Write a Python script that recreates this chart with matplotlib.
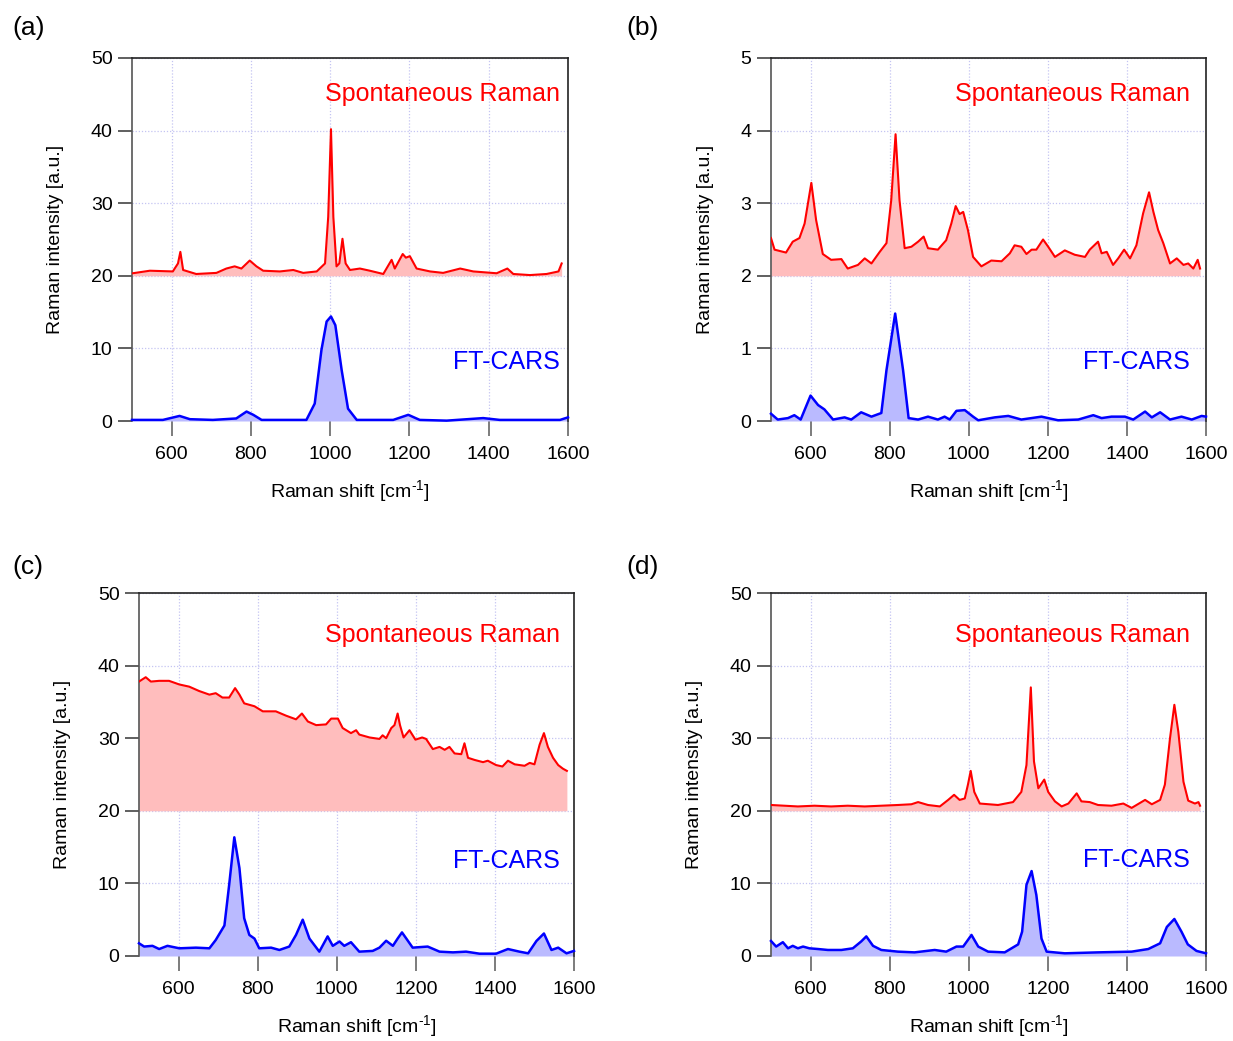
import matplotlib
matplotlib.use("Agg")
import matplotlib.pyplot as plt

plt.rcParams['font.family'] = ['Liberation Sans', 'DejaVu Sans']
plt.rcParams['mathtext.fontset'] = 'custom'
plt.rcParams['mathtext.rm'] = 'Liberation Sans'

# ---------------- (a) ----------------
a_raman_x = [502, 545, 603, 616, 622, 629, 662, 713, 738, 759, 776, 797, 814, 831, 873,
             907, 932, 966, 987, 995, 1002, 1008, 1016, 1023, 1031, 1039, 1050, 1075,
             1100, 1134, 1155, 1163, 1183, 1191, 1201, 1218, 1252, 1285, 1328, 1361,
             1420, 1447, 1462, 1504, 1546, 1576, 1584]
a_raman_y = [20.35, 20.7, 20.6, 21.7, 23.3, 20.8, 20.25, 20.4, 21.0, 21.3, 21.0, 22.1,
             21.3, 20.7, 20.6, 20.8, 20.4, 20.6, 21.7, 28.1, 40.2, 28.1, 21.3, 21.7,
             25.1, 21.7, 20.8, 21.0, 20.7, 20.25, 22.2, 21.0, 23.0, 22.5, 22.7, 21.0,
             20.6, 20.4, 21.0, 20.6, 20.35, 21.0, 20.25, 20.1, 20.25, 20.6, 21.7]
a_cars_x = [500, 578, 620, 646, 704, 763, 789, 806, 827, 940, 961, 978, 991, 1002, 1013,
            1029, 1045, 1067, 1159, 1197, 1226, 1294, 1386, 1428, 1504, 1580, 1600]
a_cars_y = [0.15, 0.15, 0.7, 0.25, 0.15, 0.35, 1.3, 0.85, 0.15, 0.15, 2.4, 9.8, 13.7,
            14.4, 13.2, 7.0, 1.7, 0.15, 0.15, 0.85, 0.15, 0.05, 0.4, 0.15, 0.15, 0.15, 0.5]

# ---------------- (b) ----------------
b_raman_x = [500, 509, 538, 555, 572, 585, 602, 614, 631, 652, 678, 694, 720, 737, 754,
             775, 792, 804, 815, 825, 838, 855, 872, 886, 897, 922, 943, 956, 967, 977,
             986, 998, 1011, 1032, 1057, 1083, 1104, 1116, 1133, 1146, 1159, 1171, 1188,
             1201, 1218, 1243, 1268, 1294, 1306, 1327, 1336, 1349, 1365, 1378, 1393,
             1408, 1424, 1441, 1456, 1467, 1479, 1492, 1509, 1526, 1543, 1555, 1568,
             1579, 1585]
b_raman_y = [2.52, 2.36, 2.32, 2.47, 2.52, 2.72, 3.28, 2.77, 2.30, 2.22, 2.23, 2.10, 2.15,
             2.24, 2.17, 2.33, 2.45, 3.04, 3.95, 3.04, 2.38, 2.40, 2.47, 2.54, 2.38, 2.36,
             2.49, 2.72, 2.96, 2.85, 2.88, 2.63, 2.26, 2.13, 2.21, 2.20, 2.31, 2.42, 2.40,
             2.30, 2.36, 2.36, 2.50, 2.40, 2.26, 2.35, 2.29, 2.26, 2.36, 2.47, 2.31, 2.33,
             2.15, 2.24, 2.36, 2.24, 2.42, 2.86, 3.15, 2.88, 2.63, 2.45, 2.17, 2.24, 2.15,
             2.17, 2.10, 2.22, 2.10]
b_cars_x = [500, 517, 543, 559, 575, 600, 619, 635, 657, 686, 703, 728, 754, 779, 792,
            814, 834, 848, 872, 897, 922, 939, 952, 969, 990, 1011, 1024, 1066, 1100,
            1133, 1184, 1226, 1277, 1315, 1336, 1361, 1395, 1416, 1446, 1463, 1484, 1509,
            1538, 1564, 1589, 1600]
b_cars_y = [0.10, 0.02, 0.04, 0.08, 0.02, 0.35, 0.22, 0.16, 0.02, 0.05, 0.02, 0.12, 0.06,
            0.11, 0.70, 1.48, 0.70, 0.04, 0.02, 0.06, 0.02, 0.06, 0.02, 0.14, 0.15, 0.06,
            0.01, 0.05, 0.07, 0.02, 0.06, 0.01, 0.02, 0.08, 0.04, 0.06, 0.06, 0.02, 0.13,
            0.05, 0.12, 0.02, 0.06, 0.02, 0.07, 0.06]

# ---------------- (c) ----------------
c_raman_x = [500, 517, 530, 551, 576, 602, 627, 652, 678, 694, 711, 728, 743, 754, 766,
             792, 813, 846, 872, 897, 912, 927, 948, 973, 986, 1003, 1015, 1036, 1049,
             1057, 1083, 1108, 1116, 1125, 1138, 1146, 1154, 1160, 1169, 1184, 1199,
             1216, 1226, 1243, 1260, 1273, 1285, 1298, 1315, 1323, 1332, 1349, 1370,
             1382, 1403, 1419, 1433, 1450, 1475, 1488, 1500, 1513, 1524, 1534, 1547,
             1560, 1572, 1582]
c_raman_y = [37.8, 38.4, 37.8, 37.9, 37.9, 37.4, 37.1, 36.5, 36.0, 36.2, 35.6, 35.6, 36.9,
             36.0, 34.8, 34.4, 33.7, 33.7, 33.1, 32.6, 33.4, 32.3, 31.8, 31.9, 32.7, 32.7,
             31.4, 30.7, 31.1, 30.5, 30.1, 29.9, 30.4, 30.0, 31.4, 31.8, 33.4, 31.8, 30.1,
             31.1, 29.8, 30.1, 29.9, 28.5, 28.8, 28.4, 28.8, 27.9, 27.8, 29.3, 27.3, 27.0,
             26.7, 26.9, 26.3, 26.1, 26.9, 26.4, 26.2, 26.6, 26.4, 29.1, 30.7, 28.8, 27.3,
             26.3, 25.8, 25.5]
c_cars_x = [500, 513, 534, 551, 572, 602, 644, 678, 694, 716, 728, 741, 754, 766, 779,
            792, 804, 834, 855, 880, 897, 914, 931, 956, 977, 990, 1007, 1019, 1036, 1057,
            1091, 1108, 1125, 1142, 1154, 1165, 1176, 1192, 1230, 1260, 1294, 1327, 1361,
            1403, 1433, 1462, 1484, 1505, 1524, 1543, 1560, 1581, 1600]
c_cars_y = [1.75, 1.3, 1.4, 0.96, 1.4, 1.06, 1.15, 1.06, 2.2, 4.2, 9.8, 16.35, 12.1, 5.2,
            2.9, 2.4, 1.06, 1.15, 0.83, 1.3, 2.9, 5.0, 2.4, 0.6, 2.7, 1.4, 2.0, 1.4, 1.9,
            0.6, 0.7, 1.15, 2.1, 1.4, 2.4, 3.25, 2.4, 1.15, 1.3, 0.6, 0.5, 0.6, 0.32, 0.32,
            0.96, 0.6, 0.37, 2.07, 3.1, 0.83, 1.15, 0.37, 0.7]

# ---------------- (d) ----------------
d_raman_x = [500, 534, 568, 610, 652, 694, 737, 779, 821, 855, 872, 897, 927, 948, 963,
             977, 990, 998, 1005, 1014, 1028, 1074, 1112, 1133, 1146, 1157, 1165, 1176,
             1191, 1201, 1218, 1235, 1252, 1273, 1285, 1306, 1327, 1361, 1391, 1412,
             1446, 1463, 1484, 1496, 1509, 1520, 1530, 1543, 1555, 1572, 1581, 1585]
d_raman_y = [20.8, 20.7, 20.6, 20.7, 20.6, 20.7, 20.6, 20.7, 20.8, 20.9, 21.2, 20.8, 20.6,
             21.5, 22.2, 21.5, 21.7, 23.6, 25.5, 22.6, 21.0, 20.8, 21.2, 22.6, 26.3, 37.0,
             26.8, 23.1, 24.3, 22.6, 21.3, 20.6, 21.0, 22.4, 21.3, 21.2, 20.8, 20.7, 21.0,
             20.4, 21.5, 20.9, 21.5, 23.6, 30.0, 34.6, 30.9, 24.0, 21.4, 21.0, 21.2, 20.7]
d_cars_x = [500, 513, 530, 543, 555, 568, 581, 597, 619, 644, 678, 707, 728, 741, 758, 779,
            821, 863, 914, 943, 969, 986, 1007, 1024, 1049, 1091, 1125, 1135, 1146, 1159,
            1171, 1184, 1197, 1243, 1327, 1412, 1454, 1484, 1501, 1520, 1538, 1554, 1576,
            1600]
d_cars_y = [2.07, 1.3, 1.9, 1.06, 1.4, 1.06, 1.3, 1.06, 0.96, 0.83, 0.83, 1.06, 2.0, 2.7,
            1.4, 0.83, 0.6, 0.5, 0.83, 0.6, 1.3, 1.3, 2.9, 1.3, 0.6, 0.5, 1.6, 3.35, 9.8,
            11.7, 8.4, 2.4, 0.6, 0.37, 0.5, 0.6, 0.96, 1.75, 4.0, 5.1, 3.35, 1.6, 0.7, 0.37]

panels = [
    dict(tag="(a)", raman=(a_raman_x, a_raman_y), cars=(a_cars_x, a_cars_y),
         base=20, ymax=50, yticks=[0, 10, 20, 30, 40, 50]),
    dict(tag="(b)", raman=(b_raman_x, b_raman_y), cars=(b_cars_x, b_cars_y),
         base=2, ymax=5, yticks=[0, 1, 2, 3, 4, 5]),
    dict(tag="(c)", raman=(c_raman_x, c_raman_y), cars=(c_cars_x, c_cars_y),
         base=20, ymax=50, yticks=[0, 10, 20, 30, 40, 50]),
    dict(tag="(d)", raman=(d_raman_x, d_raman_y), cars=(d_cars_x, d_cars_y),
         base=20, ymax=50, yticks=[0, 10, 20, 30, 40, 50]),
]

W, H = 1233, 1041
fig = plt.figure(figsize=(W / 100, H / 100), dpi=100)

# axes boxes in pixels: left, right, top, bottom
boxes = [(132, 568, 58, 421), (771, 1206, 58, 421),
         (139, 574, 593, 956), (771, 1206, 593, 956)]
# text anchor positions (axes fraction): raman label, cars label
text_pos = [((0.982, 0.900), (0.982, 0.1625)),
            ((0.963, 0.900), (0.963, 0.1625)),
            ((0.968, 0.884), (0.968, 0.262)),
            ((0.963, 0.884), (0.963, 0.264))]
tag_pos = [(12, 28), (626, 28), (12, 567), (626, 567)]

red = "#ff0000"
blue = "#0000ff"
red_fill = "#ffbdbd"
blue_fill = "#babaff"
grid_col = "#c4c4f2"

for p, (l, r, t, b), (rp, cp), (tx, ty) in zip(panels, boxes, text_pos, tag_pos):
    ax = fig.add_axes([l / W, 1 - b / H, (r - l) / W, (b - t) / H])
    rx, ry = p["raman"]
    cx, cy = p["cars"]

    ax.fill_between(rx, p["base"], ry, color=red_fill, lw=0, zorder=2)
    ax.plot(rx, ry, color=red, lw=1.5, zorder=3)
    ax.fill_between(cx, 0, cy, color=blue_fill, lw=0, zorder=2)
    ax.plot(cx, cy, color=blue, lw=1.8, zorder=3, clip_on=False)

    ax.set_xlim(500, 1600)
    ax.set_ylim(0, p["ymax"])
    ax.set_xticks([600, 800, 1000, 1200, 1400, 1600])
    ax.set_yticks(p["yticks"])
    ax.set_axisbelow(True)
    ax.grid(True, color=grid_col, lw=0.9, ls=(0, (1, 1.5)))

    ax.spines['bottom'].set_visible(False)
    ax.spines['left'].set_color('#555555')
    ax.spines['top'].set_color('#222222')
    ax.spines['right'].set_color('#222222')
    for s in ax.spines.values():
        s.set_linewidth(1.2)

    ax.tick_params(axis='x', direction='out', length=11, width=1.2, color='#666666',
                   labelsize=14, pad=7)
    ax.tick_params(axis='y', direction='out', length=10, width=1.2, color='#444444',
                   labelsize=14, pad=4)

    ax.set_xlabel("Raman shift [cm$^{\\mathrm{\\text{-1}}}$]", fontsize=14, labelpad=11)
    ax.set_ylabel("Raman intensity [a.u.]", fontsize=14, labelpad=19)

    ax.text(rp[0], rp[1], "Spontaneous Raman", transform=ax.transAxes, color=red,
            fontsize=18, ha='right', va='center')
    ax.text(cp[0], cp[1], "FT-CARS", transform=ax.transAxes, color=blue,
            fontsize=18, ha='right', va='center')

    fig.text(tx / W, 1 - ty / H, p["tag"], fontsize=19, ha='left', va='center')

fig.savefig("out.png", dpi=100)
